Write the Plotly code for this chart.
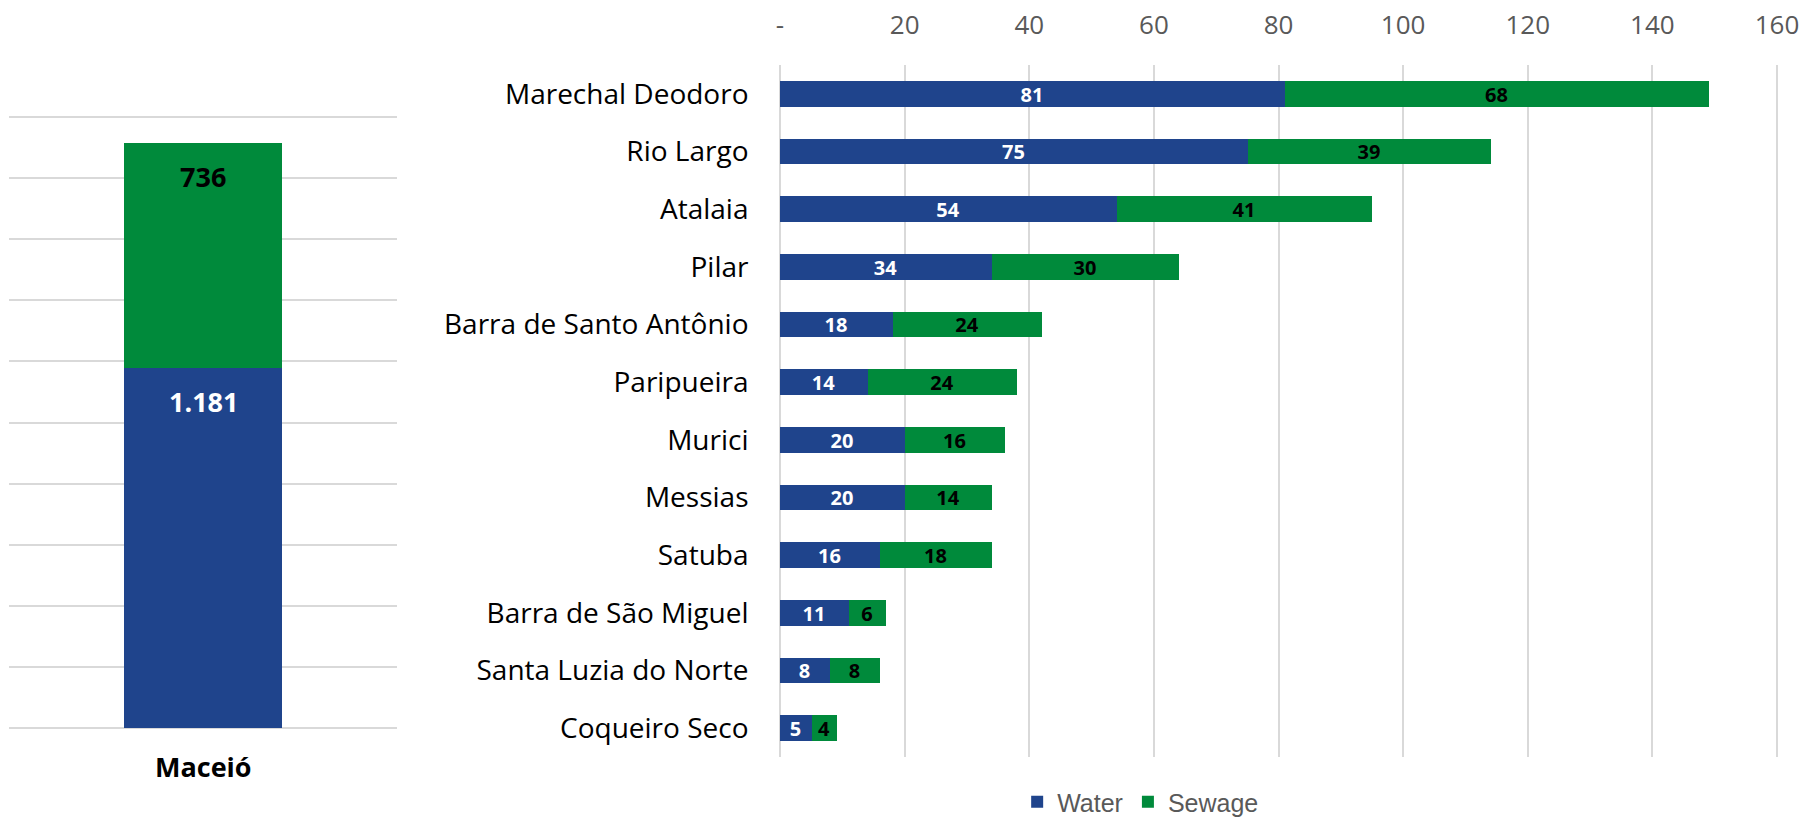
import plotly.graph_objects as go

# ---- data ----
capital = ["Maceió"]
capital_water = [1181]
capital_sewage = [736]

cities = ["Marechal Deodoro", "Rio Largo", "Atalaia", "Pilar", "Barra de Santo Antônio",
          "Paripueira", "Murici", "Messias", "Satuba", "Barra de São Miguel",
          "Santa Luzia do Norte", "Coqueiro Seco"]
water = [81, 75, 54, 34, 18, 14, 20, 20, 16, 11, 8, 5]
sewage = [68, 39, 41, 30, 24, 24, 16, 14, 18, 6, 8, 4]

x_ticks = [0, 20, 40, 60, 80, 100, 120, 140, 160]
x_ticktext = ["-", "20", "40", "60", "80", "100", "120", "140", "160"]

BLUE = "#1F448C"
GREEN = "#008A3B"
GRID = "#D9D9D9"
FONT = "Open Sans"

def fmt(v):
    return f"{v:,}".replace(",", ".")

fig = go.Figure()

# left panel: Maceió
fig.add_trace(go.Bar(x=capital, y=capital_water, marker_color=BLUE, width=0.405,
                     marker_line_width=0,
                     xaxis="x", yaxis="y", showlegend=False, name="Water",
                     hoverinfo="y"))
fig.add_trace(go.Bar(x=capital, y=capital_sewage, marker_color=GREEN, width=0.405,
                     marker_line_width=0,
                     xaxis="x", yaxis="y", showlegend=False, name="Sewage",
                     hoverinfo="y"))

# right panel: other cities
fig.add_trace(go.Bar(y=cities, x=water, orientation="h", marker_color=BLUE, width=0.45,
                     marker_line_width=0,
                     name="Water", xaxis="x2", yaxis="y2",
                     text=[fmt(v) for v in water], textposition="inside",
                     insidetextanchor="middle", textangle=0,
                     textfont=dict(family=FONT, size=20, color="white", weight="bold")))
fig.add_trace(go.Bar(y=cities, x=sewage, orientation="h", marker_color=GREEN, width=0.45,
                     marker_line_width=0,
                     name="Sewage", xaxis="x2", yaxis="y2",
                     text=[fmt(v) for v in sewage], textposition="inside",
                     insidetextanchor="middle", textangle=0,
                     textfont=dict(family=FONT, size=20, color="black", weight="bold")))

annotations = []
# value labels for Maceió (inside end)
annotations.append(dict(x=capital[0], y=capital_water[0], xref="x", yref="y",
                        text=fmt(capital_water[0]), showarrow=False, yshift=-34,
                        font=dict(family=FONT, size=27, color="white", weight="bold")))
annotations.append(dict(x=capital[0], y=capital_water[0] + capital_sewage[0], xref="x", yref="y",
                        text=fmt(capital_sewage[0]), showarrow=False, yshift=-34,
                        font=dict(family=FONT, size=27, color="black", weight="bold")))
annotations.append(dict(x=capital[0], y=0, xref="x", yref="y", text=capital[0],
                        showarrow=False, yshift=-39,
                        font=dict(family=FONT, size=27, color="black", weight="bold")))

fig.update_layout(
    width=1802, height=825,
    margin=dict(l=0, r=0, t=0, b=0, autoexpand=False),
    paper_bgcolor="white", plot_bgcolor="white",
    barmode="stack", bargap=0,
    uniformtext=dict(minsize=20, mode="show"),
    font=dict(family=FONT, color="#595959"),
    xaxis=dict(domain=[9 / 1802, 397 / 1802], range=[-0.5, 0.5], showticklabels=False,
               showgrid=False, zeroline=False, showline=False, fixedrange=True,
               automargin=False),
    yaxis=dict(domain=[(825 - 730.4) / 825, (825 - 114.6) / 825], range=[-8, 2008],
               tick0=0, dtick=200, automargin=False,
               showticklabels=False, showgrid=True, gridcolor=GRID, gridwidth=2,
               zeroline=False, showline=False),
    xaxis2=dict(domain=[777.5 / 1802, 1779.5 / 1802], range=[-0.4, 160.4], side="top",
                anchor="y2", tickvals=x_ticks, ticktext=x_ticktext, automargin=False,
                tickfont=dict(family=FONT, size=26, color="#595959"),
                showgrid=True, gridcolor=GRID, gridwidth=2, zeroline=False,
                showline=False, ticks="", ticklabelstandoff=25),
    yaxis2=dict(domain=[(825 - 757) / 825, (825 - 65) / 825], anchor="x2",
                autorange="reversed", tickfont=dict(family=FONT, size=28, color="black"),
                ticks="", showgrid=False, zeroline=False, showline=False,
                ticklabelstandoff=28, automargin=False),
    legend=dict(orientation="h", x=0.633, y=0, xanchor="center",
                yanchor="bottom", traceorder="normal",
                font=dict(family="Liberation Sans", size=25, color="#595959"),
                itemwidth=30, tracegroupgap=0, bgcolor="rgba(0,0,0,0)"),
    annotations=annotations,
)

fig.write_html("out.html", config={"displayModeBar": False},
               post_script="document.body.style.margin='0';document.body.style.overflow='hidden';")
